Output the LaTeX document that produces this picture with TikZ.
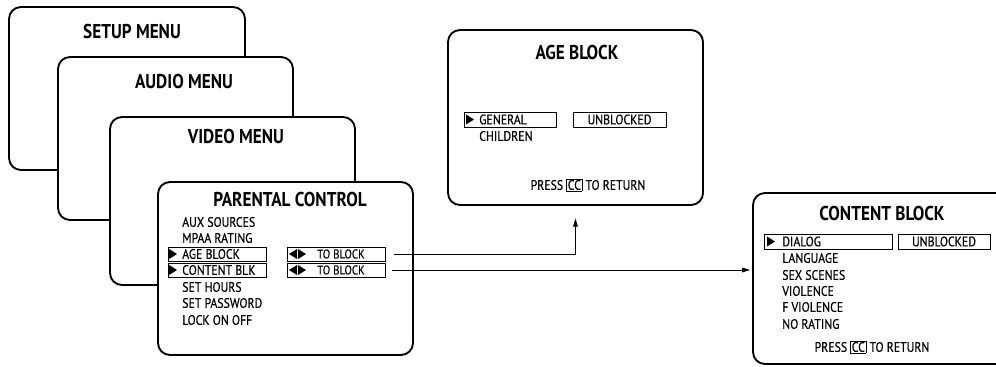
\documentclass[tikz,border=0pt]{standalone}
\usepackage{fontspec}
\setmainfont[FakeStretch=0.86]{PT Sans}
\newfontfamily\itemfont[FakeStretch=0.86,FakeBold=0.35]{PT Sans}
\usetikzlibrary{arrows.meta,fit,calc}
\newcommand\ccbox{{\setlength\fboxsep{0.6pt}\setlength\fboxrule{0.5pt}\fbox{CC}}}
\tikzset{
  screen/.style={draw, line width=1.4pt, rounded corners=9pt, fill=white, inner sep=0pt},
  scrtitle/.style={inner sep=0pt, font=\fontsize{15}{17}\selectfont\bfseries},
  menuitem/.style={anchor=west, inner sep=0pt, font=\itemfont\fontsize{10.3}{12}\selectfont},
  smallitem/.style={inner sep=0pt, font=\itemfont\fontsize{9.5}{11}\selectfont},
  selbox/.style={draw, line width=0.7pt, inner sep=0pt},
  link/.style={line width=0.7pt, -{Triangle[length=6pt,width=3.5pt]}},
  rtri/.pic={\fill (0,-5) -- (8,0) -- (0,5) -- cycle;},
  ltri/.pic={\fill (8,-5) -- (0,0) -- (8,5) -- cycle;},
}
\begin{document}
\begin{tikzpicture}[x=0.75pt,y=-0.75pt]
\useasboundingbox (0,0) rectangle (996,367);
\clip (0,0) rectangle (996,367);
\node[screen, fit={(9,7) (245,170)}] (setup) {};
\node[scrtitle] (setuptitle) at (132,32) {SETUP MENU};
\node[screen, fit={(58,57) (293,220)}] (audio) {};
\node[scrtitle] (audiotitle) at (184,82) {AUDIO MENU};
\node[screen, fit={(110,117) (355,285)}] (video) {};
\node[scrtitle] (videotitle) at (236,137) {VIDEO MENU};
\node[screen, fit={(158,182) (413,355)}] (parental) {};
\node[scrtitle] (partitle) at (290,200) {PARENTAL CONTROL};
\node[menuitem] (aux) at (182,222) {AUX SOURCES};
\node[menuitem] (mpaa) at (182,238) {MPAA RATING};
\node[selbox, fit={(168,247) (266,261)}] (agesel) {};
\pic at (169,254) {rtri};
\node[menuitem] (ageitem) at (182,254) {AGE BLOCK};
\node[selbox, fit={(168,263) (266,277)}] (consel) {};
\pic at (169,270) {rtri};
\node[menuitem] (conitem) at (182,270) {CONTENT BLK};
\node[menuitem] (hours) at (182,287) {SET HOURS};
\node[menuitem] (passwd) at (182,303) {SET PASSWORD};
\node[menuitem] (lock) at (182,320) {LOCK ON OFF};
\node[selbox, fit={(287,247) (385,261)}] (tb1) {};
\pic at (289,254) {ltri};
\pic at (298,254) {rtri};
\node[smallitem] (tb1txt) at (341,254) {TO BLOCK};
\node[selbox, fit={(287,263) (385,277)}] (tb2) {};
\pic at (289,270) {ltri};
\pic at (298,270) {rtri};
\node[smallitem] (tb2txt) at (341,270) {TO BLOCK};
\node[screen, fit={(448,30) (703,205)}] (age) {};
\node[scrtitle] (agetitle) at (577,53) {AGE BLOCK};
\node[selbox, fit={(464,112) (556,127)}] (gensel) {};
\pic at (466,119.5) {rtri};
\node[menuitem] (general) at (479,119.5) {GENERAL};
\node[selbox, fit={(573,112) (666,127)}] (ageunb) {};
\node[menuitem, anchor=center] (ageunbtxt) at (ageunb) {UNBLOCKED};
\node[menuitem] (children) at (479,136) {CHILDREN};
\node[menuitem, anchor=center] (agepress) at (588,185) {PRESS \ccbox{} TO RETURN};
\node[screen, fit={(753,193) (1010,364)}] (content) {};
\node[scrtitle] (contitle) at (882,213) {CONTENT BLOCK};
\node[selbox, fit={(764,234) (892,249)}] (dialsel) {};
\pic at (767,241.5) {rtri};
\node[menuitem] (dialog) at (782,241.5) {DIALOG};
\node[selbox, fit={(898,234) (990,249)}] (conunb) {};
\node[menuitem, anchor=center] (conunbtxt) at (conunb) {UNBLOCKED};
\node[menuitem] (language) at (782,258) {LANGUAGE};
\node[menuitem] (sex) at (782,275) {SEX SCENES};
\node[menuitem] (violence) at (782,291) {VIOLENCE};
\node[menuitem] (fviolence) at (782,307) {F VIOLENCE};
\node[menuitem] (norating) at (782,324) {NO RATING};
\node[menuitem, anchor=center] (conpress) at (872,347) {PRESS \ccbox{} TO RETURN};
\coordinate (s1) at ($(tb1.east)+(9,0)$);
\coordinate (s2) at ($(tb2.east)+(7,0)$);
\draw[link, shorten >=9.5pt] (s1) -| (age.south);
\draw[link, shorten >=1.5pt] (s2) -- (s2 -| content.west);
\end{tikzpicture}
\end{document}
